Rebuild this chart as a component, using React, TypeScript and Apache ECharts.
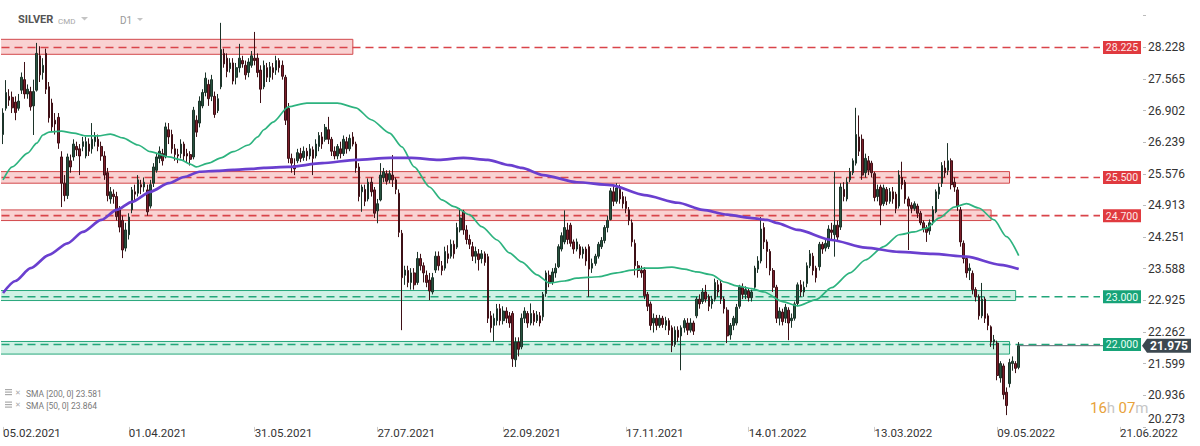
import React, { useEffect, useRef } from "react";
import * as echarts from "echarts";

// ---- data ----
// daily candles: [open, close, low, high]
const ohlc: number[][] = [
  [26.40,26.85,26.20,26.95],[26.95,27.28,26.90,27.54],[27.20,27.12,27.00,27.35],[27.18,26.96,26.85,27.30],[27.08,26.86,26.70,27.20],
  [26.95,27.10,26.90,27.25],[27.33,27.60,27.25,27.70],[27.55,27.25,27.15,27.92],[27.25,27.35,27.15,27.45],[27.30,26.98,26.90,27.40],
  [27.00,27.30,26.39,27.55],[27.33,28.10,27.30,28.32],[28.05,27.65,27.50,28.25],[27.70,27.85,27.55,28.00],[28.10,27.35,27.25,28.20],
  [27.40,26.75,26.65,27.50],[27.06,26.56,26.45,27.15],[26.70,26.62,26.40,26.85],[26.76,26.22,26.10,26.85],[25.93,25.38,24.88,26.05],
  [25.38,25.12,25.00,25.55],[25.12,25.93,25.05,26.00],[25.85,25.72,25.60,25.98],[25.93,26.20,25.85,26.30],[26.15,26.08,25.95,26.25],
  [26.10,25.95,25.55,26.20],[26.15,26.25,26.05,26.35],[25.95,26.25,25.90,26.35],[26.20,26.05,25.95,26.32],[26.10,26.30,26.00,26.64],
  [26.25,26.36,26.15,26.45],[26.30,26.15,26.05,26.40],[26.15,25.95,25.85,26.25],[25.95,25.55,25.45,26.05],[25.60,25.12,25.00,25.70],
  [25.05,25.20,24.95,25.30],[25.15,25.10,24.95,25.25],[25.10,24.68,24.60,25.20],[24.82,24.46,24.35,24.90],[24.60,23.98,23.81,24.70],
  [24.02,24.40,23.95,24.55],[24.30,24.67,24.20,24.75],[24.82,25.24,24.75,25.30],[25.20,25.15,25.00,25.35],[25.17,25.45,25.10,25.55],
  [25.35,25.30,25.15,25.45],[25.30,25.40,25.20,25.50],[25.24,24.78,24.70,25.35],[24.90,25.35,24.85,25.45],[25.38,25.72,25.30,25.80],
  [25.65,25.93,25.60,26.00],[25.90,26.05,25.80,26.15],[26.00,25.85,25.75,26.10],[25.93,26.56,25.90,26.65],[26.50,26.35,26.20,26.64],
  [26.40,26.10,26.00,26.50],[26.10,25.98,25.85,26.20],[25.98,25.95,25.80,26.10],[26.00,26.20,25.90,26.30],[26.20,25.95,25.85,26.25],
  [26.00,25.95,25.82,26.10],[25.98,25.88,25.75,26.05],[25.93,26.91,25.88,26.98],[26.70,26.45,26.35,26.80],[26.64,27.10,26.55,27.20],
  [27.00,27.28,26.95,27.35],[27.28,27.58,27.20,27.70],[27.45,27.15,27.00,27.55],[27.20,27.55,27.10,27.65],[27.20,26.82,26.75,27.30],
  [26.90,27.15,26.85,27.25],[27.40,28.18,27.35,28.74],[28.10,27.88,27.80,28.20],[28.00,27.72,27.60,28.10],[27.78,27.90,27.70,28.00],
  [27.90,27.52,27.45,28.00],[27.60,27.80,27.45,27.90],[27.80,28.00,27.70,28.30],[27.95,27.88,27.80,28.05],[27.85,27.65,27.55,27.95],
  [27.70,27.92,27.60,28.00],[27.85,28.05,27.80,28.15],[28.00,27.95,27.85,28.55],[28.00,27.70,27.60,28.10],[27.75,27.35,27.06,27.85],
  [27.40,27.85,27.35,27.95],[27.80,27.60,27.50,27.90],[27.60,27.82,27.50,27.92],[27.80,27.70,27.55,27.90],[27.75,27.95,27.65,28.05],
  [27.95,27.80,27.70,28.00],[27.85,27.62,27.55,27.95],[27.60,26.70,26.60,27.65],[26.95,25.90,25.80,27.06],[25.90,25.80,25.60,26.00],
  [25.75,25.68,25.55,25.90],[25.85,26.02,25.80,26.10],[26.00,25.90,25.82,26.12],[25.92,26.05,25.85,26.15],[26.05,25.95,25.85,26.12],
  [25.95,26.10,25.88,26.20],[26.08,25.90,25.55,26.15],[25.95,26.20,25.90,26.30],[26.15,26.38,26.05,26.45],[26.35,26.20,26.10,26.45],
  [26.30,26.55,26.25,26.62],[26.50,26.30,26.20,26.77],[26.30,26.05,25.95,26.35],[26.05,25.95,25.88,26.15],[25.95,26.15,25.88,26.20],
  [26.10,26.00,25.90,26.25],[26.00,26.30,25.95,26.38],[26.25,26.10,26.00,26.35],[26.10,26.32,26.05,26.40],[26.35,26.20,26.15,26.45],
  [26.20,25.70,25.60,26.25],[25.72,25.10,25.00,25.80],[25.20,25.30,24.78,25.35],[25.25,25.00,24.90,25.35],[25.05,25.40,25.00,25.48],
  [25.40,25.20,25.10,25.50],[25.24,24.75,24.65,25.30],[24.80,24.95,24.54,25.05],[25.03,25.55,25.00,25.80],[25.50,25.62,25.40,25.70],
  [25.58,25.42,25.35,25.65],[25.45,25.58,25.38,25.65],[25.55,25.45,25.30,25.97],[25.45,25.25,25.15,25.50],[25.17,24.35,24.25,25.25],
  [24.33,23.40,22.30,24.40],[23.45,23.56,23.25,23.65],[23.55,23.30,23.20,23.65],[23.30,23.50,23.15,23.60],[23.50,23.25,23.15,23.60],
  [23.30,23.80,23.25,23.94],[23.80,23.65,23.55,23.90],[23.65,23.50,23.30,23.72],[23.45,23.30,23.20,23.55],[23.35,23.12,22.93,23.50],
  [23.10,23.40,23.05,23.50],[23.56,23.85,23.50,23.95],[23.85,23.65,23.55,23.95],[23.65,23.55,23.45,23.75],[23.60,23.95,23.55,24.05],
  [23.90,23.80,23.70,24.08],[23.85,24.10,23.80,24.20],[24.10,23.90,23.80,24.18],[24.04,24.45,24.00,24.55],[24.40,24.65,24.35,24.86],
  [24.78,24.40,24.30,24.82],[24.40,24.20,24.10,24.50],[24.20,24.10,24.00,24.30],[24.05,23.85,23.75,24.15],[23.85,23.95,23.70,24.05],
  [23.90,23.78,23.55,24.00],[23.80,23.90,23.70,23.98],[23.90,23.72,23.65,23.95],[23.84,22.55,22.45,23.90],[22.60,22.35,22.25,22.70],
  [22.40,22.55,22.06,22.65],[22.50,22.75,22.40,22.85],[22.75,22.50,22.40,22.85],[22.50,22.70,22.42,22.80],[22.70,22.55,22.45,22.78],
  [22.60,22.45,22.35,22.68],[22.65,21.70,21.53,22.70],[21.68,22.05,21.53,22.15],[22.05,21.90,21.75,22.15],[21.95,22.55,21.90,22.65],
  [22.55,22.70,22.45,22.78],[22.65,22.45,22.35,22.70],[22.45,22.65,22.40,22.86],[22.65,22.48,22.40,22.72],[22.50,22.62,22.45,22.70],
  [22.60,22.45,22.38,22.68],[22.58,23.05,22.50,23.10],[23.07,23.50,23.00,23.55],[23.45,23.30,23.20,23.55],[23.30,23.52,23.25,23.60],
  [23.50,23.60,23.40,23.70],[23.63,24.05,23.60,24.10],[24.00,24.28,23.95,24.35],[24.15,24.45,24.10,24.81],[24.40,24.20,24.10,24.55],
  [24.50,24.12,24.05,24.55],[24.15,24.00,23.90,24.20],[24.00,24.15,23.95,24.22],[24.05,23.88,23.80,24.10],[23.90,24.00,23.80,24.05],
  [24.00,23.75,23.65,24.05],[24.05,23.58,23.00,24.10],[23.60,23.70,23.50,23.80],[23.70,23.85,23.65,23.90],[23.85,24.10,23.80,24.15],
  [24.05,24.18,24.00,24.25],[24.18,24.45,24.12,24.50],[24.45,24.60,24.35,24.70],[24.62,25.22,24.60,25.28],[25.20,25.00,24.90,25.32],
  [25.00,25.28,24.95,25.38],[25.25,25.05,24.95,25.35],[25.10,24.95,24.85,25.20],[25.00,24.85,24.75,25.10],[24.82,24.60,24.50,24.88],
  [24.55,24.15,24.05,24.62],[24.12,23.65,23.45,24.20],[23.65,23.55,23.40,23.75],[23.55,23.50,23.40,23.65],[23.56,23.02,22.95,23.62],
  [23.05,22.80,22.70,23.10],[22.85,22.40,22.30,22.90],[22.45,22.55,22.25,22.65],[22.55,22.40,22.30,22.62],[22.40,22.55,22.35,22.62],
  [22.55,22.42,22.35,22.60],[22.40,22.50,22.30,22.58],[22.50,22.30,22.20,22.55],[22.35,21.98,21.84,22.40],[22.00,22.30,21.95,22.38],
  [22.30,22.15,22.05,22.38],[22.18,22.35,21.46,22.40],[22.35,22.50,22.25,22.55],[22.45,22.30,22.20,22.55],[22.30,22.45,22.25,22.55],
  [22.45,22.28,22.20,22.50],[22.60,22.95,22.55,23.00],[22.95,22.85,22.75,23.05],[22.90,23.10,22.85,23.18],[23.10,22.95,22.88,23.25],
  [23.00,22.80,22.70,23.05],[22.85,22.95,22.75,23.02],[22.95,23.30,22.90,23.38],[23.25,23.10,23.00,23.35],[23.28,22.95,22.85,23.35],
  [22.95,22.75,22.65,23.00],[22.72,22.18,22.03,22.78],[22.20,22.40,22.10,22.45],[22.40,22.55,22.30,22.60],[22.45,22.78,22.40,22.85],
  [22.80,23.20,22.75,23.25],[23.20,23.05,22.95,23.28],[23.05,23.15,22.95,23.22],[23.12,22.98,22.90,23.18],[22.98,23.10,22.90,23.15],
  [23.20,23.60,23.15,23.65],[23.58,23.75,23.50,23.85],[23.75,24.42,23.70,24.67],[24.45,24.15,24.00,24.55],[24.15,23.95,23.60,24.20],
  [23.95,23.55,23.45,24.00],[23.55,23.20,23.10,23.60],[23.20,22.55,22.45,23.25],[22.55,22.70,22.40,22.78],[22.68,22.48,22.40,22.75],
  [22.55,22.78,22.45,22.85],[22.72,22.45,22.09,22.78],[22.50,22.55,22.35,22.65],[22.55,22.85,22.50,22.90],[22.86,23.25,22.80,23.30],
  [23.25,23.10,23.00,23.35],[23.10,23.20,23.00,23.32],[23.28,23.65,23.20,23.72],[23.65,23.90,23.60,23.98],[23.85,23.55,23.45,23.92],
  [23.60,23.40,23.30,23.65],[23.63,24.10,23.55,24.15],[24.10,24.00,23.90,24.15],[24.02,24.12,23.95,24.20],[24.05,24.42,24.00,24.50],
  [24.40,24.35,24.20,24.55],[24.30,24.50,23.84,25.62],[24.50,24.25,24.15,24.60],[24.46,25.30,24.40,25.38],[25.25,25.10,25.00,25.40],
  [25.05,25.40,25.00,25.50],[25.45,25.62,25.40,25.70],[25.60,25.85,25.55,25.90],[25.80,26.40,25.75,26.96],[26.35,26.05,25.95,26.80],
  [26.30,25.55,25.45,26.40],[25.60,25.90,25.50,26.00],[25.85,25.65,25.55,25.95],[25.80,25.60,25.50,25.85],[25.58,25.08,25.00,25.62],
  [25.10,25.25,25.00,25.35],[25.30,24.92,24.50,25.35],[24.95,25.28,24.90,25.35],[25.25,25.00,24.92,25.30],[25.00,25.20,24.95,25.28],
  [25.20,25.05,24.95,25.30],[25.15,24.85,24.75,25.20],[24.90,25.55,24.85,25.65],[25.50,25.35,25.25,25.83],[25.40,25.05,24.95,25.45],
  [25.05,24.90,23.98,25.10],[24.92,24.85,24.75,24.98],[24.85,24.95,24.80,25.00],[24.90,24.75,24.65,24.95],[24.75,24.55,24.50,24.80],
  [24.55,24.42,24.35,24.60],[24.45,24.35,24.15,24.50],[24.38,24.55,24.30,24.62],[24.55,24.82,24.50,24.90],[24.78,25.20,24.75,25.25],
  [25.15,25.30,25.05,25.38],[25.38,25.75,25.30,25.82],[25.70,25.60,25.50,25.85],[25.65,25.85,25.55,26.22],[25.85,25.35,25.25,25.90],
  [25.40,25.30,25.20,25.50],[25.24,24.90,24.80,25.30],[24.82,24.15,24.05,24.88],[24.12,23.80,23.70,24.18],[23.80,23.50,23.40,23.85],
  [23.55,23.60,23.35,23.70],[23.49,23.15,23.05,23.55],[23.15,23.00,22.90,23.20],[23.00,22.60,22.52,23.05],[22.60,22.95,22.55,23.29],
  [22.95,22.55,22.45,23.00],[22.60,22.40,22.30,22.65],[22.37,22.05,21.95,22.40],[22.05,22.10,21.90,22.20],[22.03,21.35,21.25,22.08],
  [21.30,21.60,21.20,21.65],[21.55,20.95,20.85,21.60],[21.00,20.72,20.52,21.10],[21.18,21.62,21.10,21.70],[21.60,21.65,21.45,21.75],
  [21.60,21.50,21.40,21.65],[21.52,21.975,21.48,22.05],
];

// moving averages: [candle index, value]
const sma50: number[][] = [
  [0,25.45],[3,25.72],[8,26.01],[11,26.22],[13,26.39],[15,26.45],[19,26.47],[23,26.43],[27,26.37],[31,26.37],
  [35,26.41],[39,26.33],[44,26.18],[48,26.04],[54,25.93],[58,25.87],[61,25.78],[63,25.72],[67,25.80],[71,25.91],
  [75,26.04],[80,26.18],[83,26.35],[85,26.50],[88,26.66],[93,26.98],[99,27.06],[104,27.06],[109,27.06],[115,26.96],
  [120,26.71],[126,26.43],[130,26.14],[134,25.72],[139,25.30],[143,25.03],[147,24.89],[152,24.72],[156,24.47],[161,24.19],
  [165,23.92],[169,23.73],[174,23.46],[178,23.29],[183,23.33],[187,23.39],[194,23.42],[200,23.50],[205,23.56],[209,23.60],
  [213,23.60],[218,23.62],[222,23.58],[226,23.52],[231,23.46],[235,23.31],[239,23.23],[244,23.17],[248,23.10],[254,22.90],
  [259,22.81],[265,22.94],[270,23.19],[276,23.50],[281,23.77],[287,24.05],[292,24.30],[297,24.36],[301,24.44],[305,24.65],
  [310,24.88],[314,24.95],[318,24.86],[323,24.61],[327,24.26],[331,23.864],
];
const sma200: number[][] = [
  [0,23.08],[4,23.33],[9,23.60],[15,23.88],[21,24.12],[26,24.36],[32,24.61],[37,24.82],[42,24.99],[48,25.20],
  [54,25.38],[59,25.51],[64,25.62],[70,25.64],[75,25.66],[81,25.68],[85,25.70],[93,25.72],[104,25.80],[115,25.87],
  [126,25.91],[133,25.91],[142,25.87],[150,25.91],[158,25.87],[165,25.76],[169,25.70],[176,25.55],[187,25.40],[198,25.34],
  [209,25.13],[220,24.97],[228,24.82],[236,24.72],[244,24.65],[249,24.61],[252,24.55],[259,24.40],[270,24.19],[281,24.03],
  [292,23.94],[303,23.90],[314,23.84],[325,23.67],[331,23.581],
];

const tickIndex = [0, 41, 82, 122, 163, 203, 243, 284, 324, 364];
const tickDates = ["05.02.2021", "01.04.2021", "31.05.2021", "27.07.2021", "22.09.2021", "17.11.2021", "14.01.2022", "13.03.2022", "09.05.2022", "21.06.2022"];
const slotCount = 372;

const levelValues = [28.225, 25.5, 24.7, 23.0, 22.0];
const levelKinds = ["res", "res", "res", "sup", "sup"];
const zoneTops = [28.395, 25.623, 24.82, 23.131, 22.063];
const zoneBottoms = [28.081, 25.38, 24.597, 22.921, 21.799];
const zoneEnds = [114, 328, 322, 330, 328];

const lastPrice = 21.975;
const sma200Last = 23.581;
const sma50Last = 23.864;
const yMin = 20.273;
const yMax = 29.219;
const yStep = 0.66292;

const categories = Array.from({ length: slotCount }, (_, i) => String(i));
const labelAt = (i: number) => {
  const k = tickIndex.indexOf(i);
  return k >= 0 ? tickDates[k] : "";
};

const FONT = "Roboto, 'Noto Sans', sans-serif";

export default function App() {
  const ref = useRef<HTMLDivElement>(null);
  useEffect(() => {
    if (!ref.current) return;
    const chart = echarts.init(ref.current, undefined, { renderer: "svg" });
    const option: any = {
      animation: false,
      backgroundColor: "#ffffff",
      grid: { left: 1.5, right: 57, top: 0, bottom: 19.1, containLabel: false },
      xAxis: {
        type: "category",
        data: categories,
        boundaryGap: true,
        axisLine: { show: false },
        splitLine: { show: false },
        axisTick: {
          show: true,
          alignWithLabel: true,
          interval: (i: number) => tickIndex.includes(i),
          length: 5,
          lineStyle: { color: "#cccccc" },
        },
        axisLabel: {
          interval: (i: number) => tickIndex.includes(i),
          formatter: (_v: string, i: number) => labelAt(i),
          align: "left",
          margin: 0,
          color: "#333333",
          fontSize: 11.5,
          fontFamily: FONT,
        },
      },
      yAxis: {
        type: "value",
        position: "right",
        min: yMin,
        max: yMax,
        interval: yStep,
        splitLine: { show: false },
        axisLine: { show: false },
        axisTick: { show: true, length: 3, lineStyle: { color: "#bbbbbb" } },
        axisLabel: {
          margin: 5,
          color: "#333333",
          fontSize: 12,
          fontFamily: FONT,
          showMaxLabel: false,
          formatter: (v: number) => {
            if (v > 28.5) return "";
            if (Math.abs(v - yMin) < 1e-6) return `{m|${v.toFixed(3)}}`;
            return v.toFixed(3);
          },
          rich: {
            m: { color: "#333333", fontSize: 12, fontFamily: FONT, padding: [0, 0, 16, 0] },
          },
        },
      },
      series: [
        {
          type: "custom",
          name: "zones",
          z: 1,
          silent: true,
          clip: true,
          data: zoneEnds.map((e, k) => [e, zoneTops[k], zoneBottoms[k], k]),
          encode: { x: 0, y: [1, 2] },
          renderItem: (params: any, api: any) => {
            const k = api.value(3);
            const p1 = api.coord([api.value(0), api.value(1)]);
            const p2 = api.coord([api.value(0), api.value(2)]);
            const cs = params.coordSys;
            const res = levelKinds[k] === "res";
            return {
              type: "rect",
              shape: { x: cs.x - 3, y: p1[1], width: p1[0] - cs.x + 3, height: p2[1] - p1[1] },
              style: {
                fill: res ? "rgba(238,130,130,0.36)" : "rgba(70,200,150,0.25)",
                stroke: res ? "#d2494c" : "#27a77b",
                lineWidth: 1,
              },
            };
          },
        },
        {
          type: "custom",
          name: "levels",
          z: 2,
          silent: true,
          clip: false,
          data: levelValues.map((v, k) => [0, v, k]),
          encode: { x: 0, y: 1 },
          renderItem: (params: any, api: any) => {
            const cs = params.coordSys;
            const v = api.value(1);
            const k = api.value(2);
            const y = api.coord([0, v])[1];
            const res = levelKinds[k] === "res";
            const col = res ? "#d9444a" : "#22a67a";
            const xr = cs.x + cs.width;
            return {
              type: "group",
              children: [
                { type: "line", shape: { x1: cs.x, y1: y, x2: xr - 43, y2: y }, style: { stroke: col, lineWidth: 1.6, lineDash: [8, 5] } },
                { type: "rect", shape: { x: xr - 40, y: y - 6.5, width: 38, height: 13 }, style: { fill: res ? "#e03a3f" : "#17a378" } },
                {
                  type: "text",
                  style: {
                    x: xr - 21, y: y + 0.5, text: v.toFixed(3), fill: res ? "#fde8e8" : "#eafff6",
                    font: `10.5px ${FONT}`, align: "center", verticalAlign: "middle",
                    textAlign: "center", textVerticalAlign: "middle",
                  },
                },
              ],
            };
          },
        },
        {
          type: "candlestick",
          name: "SILVER",
          z: 3,
          data: ohlc,
          barWidth: "68%",
          itemStyle: {
            color: "#27533f",
            color0: "#7d1f2b",
            borderColor: "#1c3329",
            borderColor0: "#3e1016",
            borderWidth: 1,
          },
        },
        {
          type: "line",
          name: "SMA 50",
          z: 4,
          data: sma50,
          showSymbol: false,
          smooth: 0.25,
          smoothMonotone: "x",
          lineStyle: { color: "#2db37f", width: 1.7 },
        },
        {
          type: "line",
          name: "SMA 200",
          z: 4,
          data: sma200,
          showSymbol: false,
          smooth: 0.25,
          smoothMonotone: "x",
          lineStyle: { color: "#6a3fcf", width: 2.7 },
        },
        {
          type: "custom",
          name: "price",
          z: 6,
          silent: true,
          clip: false,
          data: [[ohlc.length - 1, lastPrice]],
          encode: { x: 0, y: 1 },
          renderItem: (params: any, api: any) => {
            const cs = params.coordSys;
            const p = api.coord([api.value(0), api.value(1)]);
            const xr = cs.x + cs.width;
            const y = p[1];
            return {
              type: "group",
              children: [
                { type: "line", shape: { x1: p[0], y1: y, x2: xr - 40, y2: y }, style: { stroke: "#5b6770", lineWidth: 1 } },
                {
                  type: "polygon",
                  shape: { points: [[xr - 1, y], [xr + 4, y - 7], [xr + 48, y - 7], [xr + 48, y + 7], [xr + 4, y + 7]] },
                  style: { fill: "#3c4850" },
                },
                {
                  type: "text",
                  style: {
                    x: xr + 7, y: y + 0.5, text: api.value(1).toFixed(3), fill: "#ffffff",
                    font: `bold 12px ${FONT}`, align: "left", verticalAlign: "middle",
                    textAlign: "left", textVerticalAlign: "middle",
                  },
                },
              ],
            };
          },
        },
      ],
      graphic: [
        { type: "text", left: 18, top: 14, style: { text: "SILVER", fill: "#555555", font: `bold 11px ${FONT}` } },
        { type: "text", left: 58, top: 17, style: { text: "CMD", fill: "#a8a8a8", font: `8px ${FONT}` } },
        { type: "polygon", shape: { points: [[81, 17], [88, 17], [84.5, 20.5]] }, style: { fill: "#c4c4c4" } },
        { type: "text", left: 120, top: 15, style: { text: "D1", fill: "#999999", font: `10px ${FONT}` } },
        { type: "polygon", shape: { points: [[137, 18], [143, 18], [140, 21]] }, style: { fill: "#c4c4c4" } },
        // indicator legend
        { type: "rect", shape: { x: 5, y: 389, width: 7, height: 1.2 }, style: { fill: "#aaaaaa" } },
        { type: "rect", shape: { x: 5, y: 391.5, width: 7, height: 1.2 }, style: { fill: "#aaaaaa" } },
        { type: "rect", shape: { x: 5, y: 394, width: 7, height: 1.2 }, style: { fill: "#aaaaaa" } },
        { type: "text", left: 15, top: 389, style: { text: "✕", fill: "#aaaaaa", font: `7px ${FONT}` } },
        { type: "text", left: 26, top: 389, style: { text: `SMA [200, 0] ${sma200Last.toFixed(3)}`, fill: "#7a7a7a", font: `8.5px ${FONT}` } },
        { type: "rect", shape: { x: 5, y: 401.5, width: 7, height: 1.2 }, style: { fill: "#aaaaaa" } },
        { type: "rect", shape: { x: 5, y: 404, width: 7, height: 1.2 }, style: { fill: "#aaaaaa" } },
        { type: "rect", shape: { x: 5, y: 406.5, width: 7, height: 1.2 }, style: { fill: "#aaaaaa" } },
        { type: "text", left: 15, top: 401.5, style: { text: "✕", fill: "#aaaaaa", font: `7px ${FONT}` } },
        { type: "text", left: 26, top: 401.5, style: { text: `SMA [50, 0] ${sma50Last.toFixed(3)}`, fill: "#7a7a7a", font: `8.5px ${FONT}` } },
        // time to close
        {
          type: "text",
          left: 1090,
          top: 400,
          style: {
            text: "{o|16}{g|h} {o|07}{g|m}",
            rich: {
              o: { fill: "#e8a23a", font: `15px ${FONT}` },
              g: { fill: "#c6c6c6", font: `15px ${FONT}` },
            },
          },
        },
      ],
    };
    chart.setOption(option);
    return () => chart.dispose();
  }, []);
  return <div ref={ref} style={{ position: "fixed", left: 0, top: 0, width: 1200, height: 446 }} />;
}
